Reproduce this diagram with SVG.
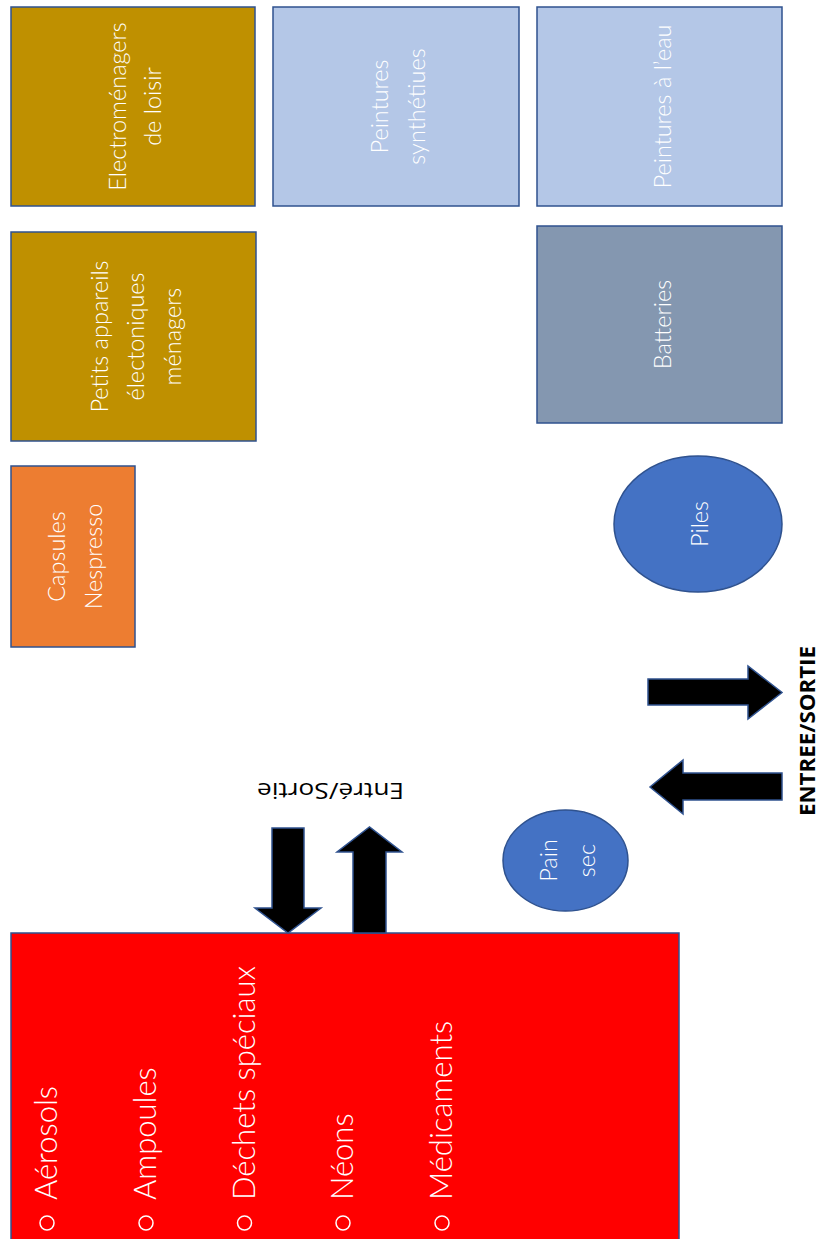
<svg xmlns="http://www.w3.org/2000/svg" width="821" height="1239" viewBox="0 0 821 1239">
<style>
.box{stroke:#2f528f;stroke-width:1.5}
.lbl{font-family:Lato,"Open Sans","Liberation Sans",sans-serif;font-weight:300;font-size:23.5px;fill:#ffffff;text-anchor:middle}
.lst{font-family:Lato,"Open Sans","Liberation Sans",sans-serif;font-weight:300;font-size:31px;fill:#ffffff}
.bul{fill:none;stroke:#ffffff;stroke-width:1.5}
.arrow{fill:#000000;stroke:#2f528f;stroke-width:1.5;stroke-linejoin:miter}
.gold{fill:#bf9000}
.blue{fill:#b4c7e7}
.oval{fill:#4472c4}
</style>
<rect x="0" y="0" width="821" height="1239" fill="#ffffff"/>

<g id="electromenagers-loisir">
<rect class="box gold" x="11" y="7" width="244" height="199"/>
<text class="lbl" transform="translate(133,106.5) rotate(-90)"><tspan x="0" y="-7">Electroménagers</tspan><tspan x="0" y="28">de loisir</tspan></text>
</g>

<g id="peintures-synthetiques">
<rect class="box blue" x="273" y="7" width="246" height="199"/>
<text class="lbl" transform="translate(396,106.5) rotate(-90)"><tspan x="0" y="-8">Peintures</tspan><tspan x="0" y="29">synthétiues</tspan></text>
</g>

<g id="peintures-eau">
<rect class="box blue" x="537" y="7" width="245" height="199"/>
<text class="lbl" transform="translate(659.5,106.5) rotate(-90)"><tspan x="0" y="11">Peintures à l’eau</tspan></text>
</g>

<g id="petits-appareils">
<rect class="box gold" x="11" y="232" width="245" height="209"/>
<text class="lbl" transform="translate(133.5,336.5) rotate(-90)"><tspan x="0" y="-26">Petits appareils</tspan><tspan x="0" y="10.5">électoniques</tspan><tspan x="0" y="47">ménagers</tspan></text>
</g>

<g id="capsules-nespresso">
<rect class="box" fill="#ed7d31" x="11" y="466" width="124" height="181"/>
<text class="lbl" transform="translate(73,556.5) rotate(-90)"><tspan x="0" y="-8">Capsules</tspan><tspan x="0" y="29">Nespresso</tspan></text>
</g>

<g id="batteries">
<rect class="box" fill="#8497b0" x="537" y="226" width="245" height="197"/>
<text class="lbl" transform="translate(659.5,324.5) rotate(-90)"><tspan x="0" y="11">Batteries</tspan></text>
</g>

<g id="piles">
<ellipse class="box oval" cx="698" cy="524" rx="84" ry="68"/>
<text class="lbl" transform="translate(698,524) rotate(-90)"><tspan x="0" y="10">Piles</tspan></text>
</g>

<g id="pain-sec">
<ellipse class="box oval" cx="565.5" cy="860.5" rx="62.5" ry="50.5"/>
<text class="lbl" transform="translate(565.5,860.5) rotate(-90)"><tspan x="0" y="-8.5">Pain</tspan><tspan x="0" y="29.5">sec</tspan></text>
</g>

<g id="dechets-speciaux">
<rect class="box" fill="#ff0000" x="11" y="933" width="668" height="320"/>
<circle class="bul" cx="47" cy="1223" r="7"/>
<circle class="bul" cx="146" cy="1223" r="7"/>
<circle class="bul" cx="244.5" cy="1223" r="7"/>
<circle class="bul" cx="343" cy="1223" r="7"/>
<circle class="bul" cx="442" cy="1223" r="7"/>
<text class="lst" transform="translate(57,1200) rotate(-90)">Aérosols</text>
<text class="lst" transform="translate(156,1200) rotate(-90)">Ampoules</text>
<text class="lst" transform="translate(254.5,1200) rotate(-90)">Déchets spéciaux</text>
<text class="lst" transform="translate(353,1200) rotate(-90)">Néons</text>
<text class="lst" transform="translate(452,1200) rotate(-90)">Médicaments</text>
</g>

<g id="connectors">
<polygon class="arrow" points="272,828 304,828 304,908 321,908 288,933 255,908 272,908"/>
<polygon class="arrow" points="353,933 353,852 337,852 369.5,827 402,852 386,852 386,933"/>
<polygon class="arrow" points="648,679 748,679 748,666 782,692.5 748,719 748,705 648,705"/>
<polygon class="arrow" points="782,773 683,773 683,760 650,787 683,814 683,800 782,800"/>
<text transform="translate(330.5,783) rotate(180)" font-family="'Open Sans','Liberation Sans',sans-serif" font-size="22" fill="#000000" text-anchor="middle" textLength="147" lengthAdjust="spacingAndGlyphs">Entré/Sortie</text>
<text transform="translate(815,731) rotate(-90)" font-family="'Open Sans','Liberation Sans',sans-serif" font-weight="700" font-size="22" fill="#000000" text-anchor="middle" textLength="170" lengthAdjust="spacingAndGlyphs">ENTREE/SORTIE</text>
</g>
</svg>
